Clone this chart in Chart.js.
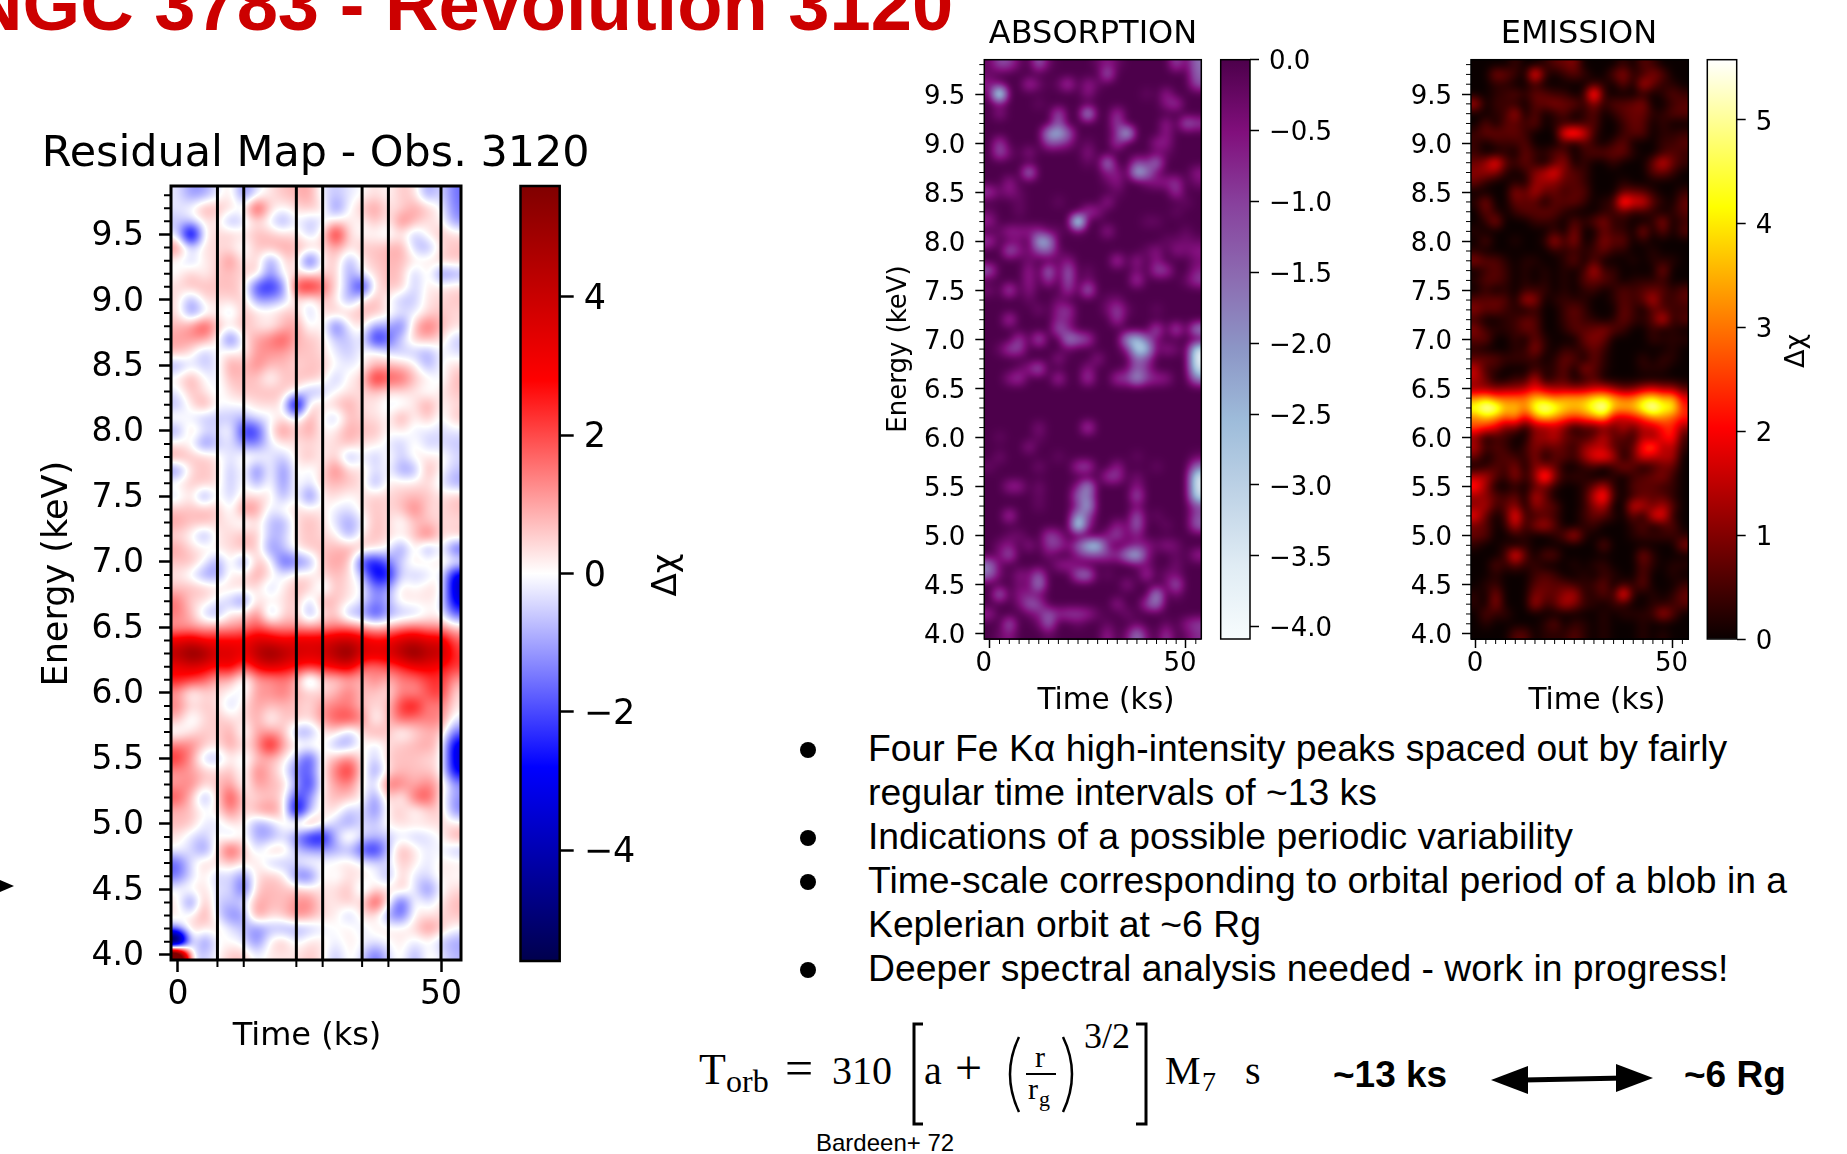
<!DOCTYPE html>
<html>
<head>
<meta charset="utf-8">
<title>NGC 3783 - Revolution 3120</title>
<script src="https://cdn.jsdelivr.net/npm/chart.js@4/dist/chart.umd.min.js"></script>
<style>
  html, body { margin: 0; background: #fff; }
  #slide { position: relative; width: 1847px; height: 1154px; overflow: hidden; background: #fff; }
  #slide canvas { position: absolute; }
  .t { position: absolute; line-height: 0; white-space: nowrap; color: #000; font-family: "Liberation Sans", Arial, sans-serif; }
  .m { font-family: "Liberation Serif", serif; }
  .dot { position: absolute; width: 16px; height: 16px; border-radius: 50%; background: #000; }
  svg { position: absolute; left: 0; top: 0; }
</style>
</head>
<body>
<div id="slide">
<svg width="1847" height="1154">
  <polygon points="0,880 14,886 0,892" fill="#000"/>
  <polyline points="923,1024 914,1024 914,1124 923,1124" fill="none" stroke="#000" stroke-width="3"/>
  <polyline points="1136,1024 1146,1024 1146,1124 1136,1124" fill="none" stroke="#000" stroke-width="3"/>
  <path d="M1019,1037 Q1001,1074 1019,1112" fill="none" stroke="#000" stroke-width="2.5"/>
  <path d="M1063,1037 Q1081,1074 1063,1112" fill="none" stroke="#000" stroke-width="2.5"/>
  <line x1="1026" y1="1074" x2="1056" y2="1074" stroke="#000" stroke-width="2"/>
  <line x1="1520" y1="1080" x2="1625" y2="1078" stroke="#000" stroke-width="5"/>
  <polygon points="1491,1080 1528,1066 1528,1094" fill="#000"/>
  <polygon points="1653,1078 1616,1064 1616,1092" fill="#000"/>
</svg>
</div>
<script>
// bin centres of the map (ks, keV)
const timeBins = [0, 2.5, 5, 7.5, 10, 12.5, 15, 17.5, 20, 22.5, 25, 27.5, 30, 32.5, 35, 37.5, 40, 42.5, 45, 47.5, 50, 52.5];
const energyBins = [9.8, 9.7, 9.6, 9.5, 9.4, 9.3, 9.2, 9.1, 9.0, 8.9, 8.8, 8.7, 8.6, 8.5, 8.4, 8.3, 8.2, 8.1, 8.0, 7.9,
  7.8, 7.7, 7.6, 7.5, 7.4, 7.3, 7.2, 7.1, 7.0, 6.9, 6.8, 6.7, 6.6, 6.5, 6.4, 6.3, 6.2, 6.1, 6.0, 5.9,
  5.8, 5.7, 5.6, 5.5, 5.4, 5.3, 5.2, 5.1, 5.0, 4.9, 4.8, 4.7, 4.6, 4.5, 4.4, 4.3, 4.2, 4.1, 4.0];

// delta chi in units of DELTA_CHI_UNIT, one row per energy bin, estimated from the residual map
const DELTA_CHI_UNIT = 1 / 7.5;
const deltaChiCounts = [
  [-2,-9,-8,-2,3,-11,-2,2,5,6,8,-2,-5,-2,0,3,0,5,3,-9,-2,-12],
  [-2,0,8,6,3,0,20,3,0,3,5,3,-12,0,5,9,2,3,8,5,0,-11],
  [-5,-3,2,2,-8,-3,3,-2,-9,0,-6,-2,3,2,0,6,0,12,6,2,2,-9],
  [-2,-36,2,3,5,2,6,5,3,3,-5,2,24,2,0,0,-2,2,-6,2,5,3],
  [11,-3,3,3,2,-2,5,6,8,6,6,2,8,2,5,5,6,8,-5,-8,3,5],
  [0,-5,2,3,11,0,5,-11,2,5,-20,2,5,-8,2,5,6,6,2,2,5,5],
  [0,5,0,5,5,3,6,-11,2,2,2,3,5,-9,0,3,6,5,-6,3,-12,-8],
  [3,6,6,5,6,3,-18,-20,-12,18,22,14,3,-6,-24,3,5,5,-5,2,2,3],
  [3,-9,3,3,3,5,-9,-8,-5,3,-2,5,2,-9,3,6,0,-6,-5,3,3,5],
  [3,-11,-3,2,-5,6,3,2,5,5,-5,3,5,5,6,6,2,-2,-2,3,5,3],
  [6,9,18,5,3,6,2,0,5,9,-2,3,-16,0,3,-9,-6,-14,6,14,6,3],
  [8,9,8,2,-16,2,8,11,16,6,5,3,-5,-5,0,-22,-14,-3,5,6,3,-5],
  [6,2,-6,0,2,0,9,9,8,5,5,3,-2,-5,0,2,-3,-5,-5,-8,0,-3],
  [-8,-2,-5,-2,9,5,11,5,6,3,5,5,0,-2,0,6,6,5,2,-8,0,3],
  [2,8,0,-2,6,5,5,-2,5,5,6,3,-6,2,3,22,14,14,5,2,-2,6],
  [-2,6,2,-2,3,5,5,6,5,2,-8,-5,0,2,3,5,2,3,2,-2,2,5],
  [-6,2,9,0,0,0,3,3,2,-36,5,2,5,8,2,2,-2,-2,2,9,0,3],
  [2,-2,-6,-5,-5,-6,-2,-2,3,-2,8,0,-6,6,3,3,0,9,0,6,-2,5],
  [-8,5,-2,-3,2,-20,-18,2,11,3,9,0,2,8,5,6,0,2,-2,-2,-3,-2],
  [2,0,-12,-5,-2,-9,-11,-2,2,2,3,2,3,6,2,2,-2,-5,2,-5,-3,-5],
  [8,5,5,2,-3,2,2,-2,-5,2,6,0,5,-9,0,-6,2,-5,2,2,2,-3],
  [-11,3,5,3,-6,2,-14,2,-12,2,-2,3,12,3,3,-3,0,-9,-8,8,0,-5],
  [2,5,5,3,-6,2,-8,2,-11,2,-3,5,6,5,3,-9,2,2,2,3,-2,-8],
  [-3,3,-11,2,-5,3,3,3,-8,2,-14,2,3,0,2,5,3,5,6,5,2,5],
  [5,5,6,5,-2,11,9,-3,2,3,2,2,-2,-3,2,5,3,5,12,3,3,5],
  [8,5,6,3,2,-3,3,-6,-8,3,6,3,-3,-9,-2,6,3,-2,5,5,3,3],
  [3,0,-9,2,3,6,5,-6,-5,3,5,3,2,-8,2,6,3,2,5,14,2,5],
  [8,3,2,2,3,6,5,-11,-5,2,5,5,6,8,5,3,0,-11,3,-11,2,-16],
  [5,6,0,-9,3,-12,6,2,-16,-12,-9,6,8,6,-18,-22,-11,-3,3,2,2,2],
  [2,-2,-9,-9,2,2,9,2,-2,3,2,3,6,3,-5,-24,-22,-2,-5,-3,2,-26],
  [5,6,5,3,3,3,3,-5,2,6,5,-5,6,2,0,-12,-8,3,0,3,2,-28],
  [12,3,3,-2,-5,-12,3,2,2,6,-5,9,5,2,-2,-11,-6,2,2,2,0,-25],
  [11,6,-5,-8,3,2,12,-8,3,5,-9,2,5,-8,-8,-18,-8,-6,-5,0,0,-14],
  [8,8,7,8,8,10,15,11,9,9,8,9,11,12,8,5,6,10,12,9,9,4],
  [24,27,21,22,22,22,28,26,23,26,26,26,30,31,26,22,23,29,31,26,27,14],
  [34,43,39,27,29,23,34,41,35,29,27,29,36,43,27,27,27,35,43,33,33,17],
  [23,27,24,20,24,13,23,27,24,20,18,20,23,26,13,11,15,18,23,24,20,17],
  [20,17,14,6,7,-4,8,8,11,7,-10,4,3,7,5,11,5,11,11,16,18,8],
  [8,-2,3,3,0,-2,9,9,12,6,5,3,6,12,5,5,2,11,8,15,18,3],
  [11,3,5,3,-5,3,8,5,6,5,2,9,11,11,5,3,5,18,22,9,12,2],
  [6,-3,3,5,3,2,8,-2,5,5,3,9,15,17,11,-2,6,14,11,11,11,-2],
  [-2,2,5,3,8,-3,8,8,6,-8,-9,2,3,-6,3,8,5,-2,3,6,6,-12],
  [11,11,5,2,9,2,8,24,8,2,3,2,-8,-8,2,-3,3,5,6,8,3,-26],
  [18,9,-6,-6,2,-3,5,6,2,-5,-18,2,6,11,2,-5,5,5,5,3,3,-26],
  [9,8,5,3,6,-2,12,6,0,-12,-14,2,12,20,3,-11,3,6,5,5,2,-24],
  [8,11,3,5,9,-2,9,6,5,-6,-20,2,8,11,0,-3,14,11,6,11,5,-8],
  [15,5,-9,3,18,3,3,5,3,-18,-9,3,6,5,2,-11,6,-2,14,16,2,-9],
  [6,5,0,2,12,2,8,11,5,-30,-6,2,3,-6,-2,-12,2,5,-2,3,5,-11],
  [6,5,-2,-3,2,2,-9,-6,2,5,12,2,-5,-9,-2,-5,2,3,3,3,3,2],
  [2,-3,-5,2,-5,2,-8,-8,-3,-11,-22,-24,-5,6,-3,-5,-5,-2,-5,-3,0,8],
  [0,-3,-11,3,18,5,-3,5,5,-5,-8,-8,-8,-6,-16,-22,-5,8,2,-2,0,-6],
  [-14,-2,5,2,5,2,3,-5,-6,-2,2,0,2,3,0,-2,-3,5,2,-3,2,2],
  [-12,-3,2,-5,-3,-11,3,5,3,-12,-14,2,-2,3,2,0,-8,5,-3,-3,2,0],
  [0,2,3,-3,-2,-16,5,6,5,5,3,2,3,6,-5,3,2,6,-2,-12,0,3],
  [2,-14,8,-5,-5,-3,8,6,5,9,11,2,2,5,2,20,2,-18,2,-3,2,6],
  [2,0,9,-3,-11,-9,11,3,5,11,8,3,2,-6,3,2,-9,-14,2,2,3,5],
  [-6,5,2,3,-2,-5,-11,-6,-8,-8,-6,-2,0,2,-3,2,2,2,3,11,5,0],
  [-70,2,-12,0,0,-2,-12,2,6,-2,3,2,-2,2,0,-2,0,2,-2,0,-5,-8],
  [80,-2,-5,0,5,5,-2,2,2,2,5,2,-6,2,-3,-14,-3,2,-8,2,-2,-6]
];

// marks drawn across the residual map (ks)
const markerTimes = [7.5, 12.5, 22.5, 27.5, 35, 40, 50];

const energyTicks = [4, 4.5, 5, 5.5, 6, 6.5, 7, 7.5, 8, 8.5, 9, 9.5];
const energyMinorTicks = [4.1, 4.2, 4.3, 4.4, 4.6, 4.7, 4.8, 4.9, 5.1, 5.2, 5.3, 5.4, 5.6, 5.7, 5.8, 5.9, 6.1, 6.2, 6.3, 6.4,
  6.6, 6.7, 6.8, 6.9, 7.1, 7.2, 7.3, 7.4, 7.6, 7.7, 7.8, 7.9, 8.1, 8.2, 8.3, 8.4, 8.6, 8.7, 8.8, 8.9,
  9.1, 9.2, 9.3, 9.4, 9.6, 9.7, 9.8];
const timeTicks = [0, 50];
const timeMinorTicks = [2.5, 5, 7.5, 10, 12.5, 15, 17.5, 20, 22.5, 25, 27.5, 30, 32.5, 35, 37.5, 40, 42.5, 45, 47.5, 52.5];

const residualBarTicks = [-4, -2, 0, 2, 4];
const absorptionBarTicks = [-4, -3.5, -3, -2.5, -2, -1.5, -1, -0.5, 0];
const emissionBarTicks = [0, 1, 2, 3, 4, 5];

const bullets = [
  "Four Fe K\u03b1 high-intensity peaks spaced out by fairly",
  "regular time intervals of ~13 ks",
  "Indications of a possible periodic variability",
  "Time-scale corresponding to orbital period of a blob in a",
  "Keplerian orbit at ~6 Rg",
  "Deeper spectral analysis needed - work in progress!"
];

// colour maps: [position, r, g, b]
const seismic = [[0, 0, 0, 77], [0.25, 0, 0, 255], [0.5, 255, 255, 255], [0.75, 255, 0, 0], [1, 128, 0, 0]];
const buPuReversed = [[0, 247, 252, 253], [0.125, 224, 236, 244], [0.25, 191, 211, 230], [0.375, 158, 188, 218], [0.5, 140, 150, 198],
  [0.625, 140, 107, 177], [0.75, 136, 65, 157], [0.875, 129, 15, 124], [1, 77, 0, 75]];
const hot = [[0, 10, 0, 0], [0.365, 255, 0, 0], [0.746, 255, 255, 0], [1, 255, 255, 255]];

const residualGrid = deltaChiCounts.map(row => row.map(v => v * DELTA_CHI_UNIT));
const absorptionGrid = residualGrid.map(row => row.map(v => Math.min(v, 0)));
const emissionGrid = residualGrid.map(row => row.map(v => Math.max(v, 0)));
// the bottom left corner spots only show on the residual map
absorptionGrid[57][0] = 0;
emissionGrid[58][0] = 0;

const slide = document.getElementById("slide");
const DEJAVU = '"DejaVu Sans"';

function addText(text, x, baseline, size, extra) {
  const d = document.createElement("div");
  d.className = "t";
  d.textContent = text;
  d.style.left = x + "px";
  d.style.top = (baseline - 0.3465 * size) + "px";
  d.style.fontSize = size + "px";
  if (extra) d.style.cssText += extra;
  slide.appendChild(d);
  return d;
}

function sampleColor(stops, f) {
  f = Math.min(1, Math.max(0, f));
  for (let i = 1; i < stops.length; i++) {
    if (f <= stops[i][0]) {
      const a = stops[i - 1], b = stops[i];
      const k = (f - a[0]) / (b[0] - a[0]);
      return [a[1] + k * (b[1] - a[1]), a[2] + k * (b[2] - a[2]), a[3] + k * (b[3] - a[3])];
    }
  }
  return stops[stops.length - 1].slice(1);
}

// cubic spline weights, same look as imshow(interpolation="bicubic")
function cubicWeights(s) {
  const s2 = s * s, s3 = s2 * s;
  return [(1 - s) * (1 - s) * (1 - s) / 6, (3 * s3 - 6 * s2 + 4) / 6, (-3 * s3 + 3 * s2 + 3 * s + 1) / 6, s3 / 6];
}

function sampleGrid(grid, col, row) {
  const c0 = Math.floor(col), r0 = Math.floor(row);
  const wc = cubicWeights(col - c0), wr = cubicWeights(row - r0);
  const rows = grid.length, cols = grid[0].length;
  let sum = 0;
  for (let j = 0; j < 4; j++) {
    const r = Math.min(rows - 1, Math.max(0, r0 + j - 1));
    for (let i = 0; i < 4; i++) {
      const c = Math.min(cols - 1, Math.max(0, c0 + i - 1));
      sum += wr[j] * wc[i] * grid[r][c];
    }
  }
  return sum;
}

// paints the grid through the chart's scales
const heatmapPlugin = {
  id: "heatmap",
  beforeDatasetsDraw(chart, args, opts) {
    if (!opts.grid) return;
    const { x, y } = chart.scales;
    const area = chart.chartArea;
    const w = Math.ceil(area.right - area.left), h = Math.ceil(area.bottom - area.top);
    const off = document.createElement("canvas");
    off.width = w; off.height = h;
    const octx = off.getContext("2d");
    const img = octx.createImageData(w, h);
    const tStep = timeBins[1] - timeBins[0], eStep = energyBins[0] - energyBins[1];
    for (let py = 0; py < h; py++) {
      const row = (energyBins[0] - y.getValueForPixel(area.top + py + 0.5)) / eStep;
      for (let px = 0; px < w; px++) {
        const col = (x.getValueForPixel(area.left + px + 0.5) - timeBins[0]) / tStep;
        const v = sampleGrid(opts.grid, col, row);
        const c = sampleColor(opts.colors, (v - opts.vmin) / (opts.vmax - opts.vmin));
        const k = (py * w + px) * 4;
        img.data[k] = c[0]; img.data[k + 1] = c[1]; img.data[k + 2] = c[2]; img.data[k + 3] = 255;
      }
    }
    octx.putImageData(img, 0, 0);
    chart.ctx.drawImage(off, area.left, area.top);
  }
};

// box around the axes, short ticks, titles
const framePlugin = {
  id: "frame",
  afterDraw(chart, args, opts) {
    const ctx = chart.ctx, a = chart.chartArea;
    ctx.save();
    ctx.strokeStyle = "#000";
    ctx.lineWidth = opts.width;
    ctx.strokeRect(a.left, a.top, a.right - a.left, a.bottom - a.top);
    ctx.lineWidth = opts.minorWidth || 1;
    ctx.beginPath();
    (opts.yMinor || []).forEach(v => {
      const p = chart.scales.y.getPixelForValue(v);
      ctx.moveTo(a.left - opts.minorLength, p); ctx.lineTo(a.left, p);
    });
    (opts.xMinor || []).forEach(v => {
      const p = chart.scales.x.getPixelForValue(v);
      ctx.moveTo(p, a.bottom); ctx.lineTo(p, a.bottom + opts.minorLength);
    });
    ctx.stroke();
    (opts.labels || []).forEach(l => {
      ctx.save();
      ctx.font = l.font;
      ctx.fillStyle = "#000";
      ctx.textAlign = "center";
      ctx.translate(l.x, l.y);
      ctx.rotate(l.rotate || 0);
      ctx.fillText(l.text, 0, 0);
      ctx.restore();
    });
    ctx.restore();
  }
};

function makeCanvas(box) {
  const c = document.createElement("canvas");
  c.width = box.w; c.height = box.h;
  c.style.left = box.x + "px";
  c.style.top = box.y + "px";
  slide.appendChild(c);
  return c;
}

const fixTicks = list => scale => { scale.ticks = list.map(value => ({ value })); };

function heatChart(cfg) {
  const { box, plot } = cfg;
  const cells = [];
  cfg.grid.forEach((row, r) => row.forEach((v, c) => cells.push({ x: timeBins[c], y: energyBins[r], v })));
  const datasets = [{ label: "\u0394\u03c7", data: cells, pointRadius: 0, showLine: false }];
  (cfg.lines || []).forEach(t => datasets.push({
    data: [{ x: t, y: cfg.yRange[0] }, { x: t, y: cfg.yRange[1] }],
    showLine: true, pointRadius: 0, borderColor: "#000", borderWidth: cfg.lineWidth
  }));
  const tickFont = { family: DEJAVU, size: cfg.tickSize };
  return new Chart(makeCanvas(box), {
    type: "scatter",
    data: { datasets },
    plugins: [heatmapPlugin, framePlugin],
    options: {
      responsive: false,
      animation: false,
      events: [],
      layout: { autoPadding: false, padding: { top: plot.top - box.y, right: box.x + box.w - plot.right, left: 0, bottom: 0 } },
      plugins: {
        legend: { display: false },
        tooltip: { enabled: false },
        heatmap: { grid: cfg.grid, colors: cfg.colors, vmin: cfg.vRange[0], vmax: cfg.vRange[1] },
        frame: {
          width: cfg.frameWidth, minorWidth: cfg.minorWidth, minorLength: cfg.minorLength,
          xMinor: cfg.xMinor, yMinor: energyMinorTicks, labels: cfg.labels
        }
      },
      scales: {
        x: {
          type: "linear", min: cfg.xRange[0], max: cfg.xRange[1],
          afterBuildTicks: fixTicks(timeTicks),
          afterFit: s => { s.height = box.y + box.h - plot.bottom; },
          border: { display: false },
          grid: { drawOnChartArea: false, color: "#000", tickLength: cfg.majorLength, tickWidth: cfg.majorWidth },
          ticks: { color: "#000", font: tickFont, padding: cfg.xTickPad, labelOffset: cfg.xLabelOffset || 0, autoSkip: false, maxRotation: 0, callback: v => String(v) }
        },
        y: {
          type: "linear", min: cfg.yRange[0], max: cfg.yRange[1],
          afterBuildTicks: fixTicks(energyTicks),
          afterFit: s => { s.width = plot.left - box.x; },
          border: { display: false },
          grid: { drawOnChartArea: false, color: "#000", tickLength: cfg.majorLength, tickWidth: cfg.majorWidth },
          ticks: { color: "#000", font: tickFont, padding: cfg.yTickPad, labelOffset: cfg.yLabelOffset, autoSkip: false, callback: v => v.toFixed(1) }
        }
      }
    }
  });
}

function colorbarChart(cfg) {
  const { box, plot } = cfg;
  return new Chart(makeCanvas(box), {
    type: "bar",
    data: {
      labels: ["\u0394\u03c7"],
      datasets: [{
        data: [[cfg.vRange[0], cfg.vRange[1]]],
        barPercentage: 1, categoryPercentage: 1, borderSkipped: false,
        backgroundColor: ctx => {
          const { chart } = ctx;
          if (!chart.chartArea) return "#000";
          const y = chart.scales.y;
          const g = chart.ctx.createLinearGradient(0, y.getPixelForValue(cfg.vRange[0]), 0, y.getPixelForValue(cfg.vRange[1]));
          cfg.colors.forEach(s => g.addColorStop(s[0], `rgb(${s[1]},${s[2]},${s[3]})`));
          return g;
        }
      }]
    },
    plugins: [framePlugin],
    options: {
      responsive: false,
      animation: false,
      events: [],
      layout: { autoPadding: false, padding: { top: plot.top - box.y, left: plot.left - box.x, right: 0, bottom: box.y + box.h - plot.bottom } },
      plugins: {
        legend: { display: false },
        tooltip: { enabled: false },
        frame: { width: cfg.frameWidth, minorLength: 0, labels: cfg.labels }
      },
      scales: {
        x: { display: false },
        y: {
          position: "right", min: cfg.vRange[0], max: cfg.vRange[1],
          afterBuildTicks: fixTicks(cfg.ticks),
          afterFit: s => { s.width = box.x + box.w - plot.right; },
          border: { display: false },
          grid: { drawOnChartArea: false, color: "#000", tickLength: cfg.majorLength, tickWidth: cfg.majorWidth },
          ticks: {
            color: "#000", font: { family: DEJAVU, size: cfg.tickSize }, padding: cfg.tickPad, labelOffset: cfg.labelOffset, autoSkip: false,
            callback: v => (v < 0 ? "\u2212" : "") + Math.abs(v).toFixed(cfg.decimals)
          }
        }
      }
    }
  });
}

// left: full residual map
heatChart({
  box: { x: 0, y: 110, w: 640, h: 950 },
  plot: { left: 171, right: 461, top: 186, bottom: 960 },
  grid: residualGrid, colors: seismic, vRange: [-5.6, 5.6],
  xRange: [-1.33, 53.8], yRange: [3.96, 9.87],
  lines: markerTimes, lineWidth: 3,
  frameWidth: 3, majorLength: 12, majorWidth: 2.5, minorLength: 7, minorWidth: 2,
  tickSize: 33, xTickPad: 4, yTickPad: 15, yLabelOffset: 2,
  xMinor: markerTimes.slice(0, -1),
  labels: [
    { text: "Residual Map - Obs. 3120", x: 315.7, y: 56, font: `42.9px ${DEJAVU}` },
    { text: "Time (ks)", x: 307, y: 935, font: `32px ${DEJAVU}` },
    { text: "Energy (keV)", x: 67, y: 463.7, rotate: -Math.PI / 2, font: `35px ${DEJAVU}` }
  ]
});
colorbarChart({
  box: { x: 500, y: 110, w: 200, h: 900 },
  plot: { left: 520.5, right: 559.7, top: 186, bottom: 961 },
  colors: seismic, vRange: [-5.6, 5.6], ticks: residualBarTicks, decimals: 0,
  frameWidth: 2.5, majorLength: 14, majorWidth: 2.5, tickSize: 35, tickPad: 10, labelOffset: 3,
  labels: [{ text: "\u0394\u03c7", x: 176, y: 465, rotate: -Math.PI / 2, font: `34px ${DEJAVU}` }]
});

// absorption panel
heatChart({
  box: { x: 880, y: 0, w: 335, h: 720 },
  plot: { left: 984.3, right: 1201.3, top: 59.7, bottom: 639 },
  grid: absorptionGrid, colors: buPuReversed, vRange: [-4.087, 0],
  xRange: [-1.37, 53.9], yRange: [3.945, 9.85],
  frameWidth: 1.5, majorLength: 9, majorWidth: 1.5, minorLength: 5, minorWidth: 1,
  tickSize: 26, xTickPad: 1, yTickPad: 10, yLabelOffset: 3, xLabelOffset: -6,
  xMinor: timeMinorTicks,
  labels: [
    { text: "ABSORPTION", x: 213, y: 43, font: `32px ${DEJAVU}` },
    { text: "Time (ks)", x: 226, y: 709, font: `29.5px ${DEJAVU}` },
    { text: "Energy (keV)", x: 26, y: 349, rotate: -Math.PI / 2, font: `26px ${DEJAVU}` }
  ]
});
colorbarChart({
  box: { x: 1212, y: 30, w: 150, h: 640 },
  plot: { left: 1220.7, right: 1250, top: 59.7, bottom: 639 },
  colors: buPuReversed, vRange: [-4.087, 0], ticks: absorptionBarTicks, decimals: 1,
  frameWidth: 1.5, majorLength: 9, majorWidth: 1.5, tickSize: 26, tickPad: 10, labelOffset: 3
});

// emission panel
heatChart({
  box: { x: 1380, y: 0, w: 320, h: 720 },
  plot: { left: 1471, right: 1688.3, top: 59.7, bottom: 639 },
  grid: emissionGrid, colors: hot, vRange: [0, 5.58],
  xRange: [-1.27, 54], yRange: [3.945, 9.85],
  frameWidth: 1.5, majorLength: 9, majorWidth: 1.5, minorLength: 5, minorWidth: 1,
  tickSize: 26, xTickPad: 1, yTickPad: 10, yLabelOffset: 3, xLabelOffset: -1,
  xMinor: timeMinorTicks,
  labels: [
    { text: "EMISSION", x: 199, y: 43, font: `32px ${DEJAVU}` },
    { text: "Time (ks)", x: 217, y: 709, font: `29.5px ${DEJAVU}` }
  ]
});
colorbarChart({
  box: { x: 1698, y: 30, w: 149, h: 640 },
  plot: { left: 1707.3, right: 1736.7, top: 59.7, bottom: 639 },
  colors: hot, vRange: [0, 5.58], ticks: emissionBarTicks, decimals: 0,
  frameWidth: 1.5, majorLength: 9, majorWidth: 1.5, tickSize: 26, tickPad: 10, labelOffset: 3,
  labels: [{ text: "\u0394\u03c7", x: 106, y: 321, rotate: -Math.PI / 2, font: `27px ${DEJAVU}` }]
});

// slide text
addText("NGC 3783 - Revolution 3120", -31, 31, 74.1, "font-weight:bold;color:#cc0000;");
const bulletBaselines = [761, 805, 849, 893, 937, 981];
const bulletDots = [0, 2, 3, 5];
bullets.forEach((line, i) => addText(line, 868, bulletBaselines[i], 37.3));
bulletDots.forEach(i => {
  const d = document.createElement("div");
  d.className = "dot";
  d.style.left = "800px";
  d.style.top = (bulletBaselines[i] - 19) + "px";
  slide.appendChild(d);
});

const formula = [
  ["T", 699, 1085, 44], ["orb", 726, 1092, 32], ["=", 785, 1085, 50], ["310", 832, 1085, 40], ["a", 924, 1085, 40],
  ["+", 955, 1085, 48], ["r", 1035, 1067, 30], ["r", 1028, 1099, 30], ["g", 1039, 1107, 22], ["3/2", 1084, 1048, 36],
  ["M", 1165, 1085, 40], ["7", 1202, 1092, 28], ["s", 1245, 1085, 40]
];
formula.forEach(f => addText(f[0], f[1], f[2], f[3]).classList.add("m"));
addText("Bardeen+ 72", 816, 1151, 24);
addText("~13 ks", 1333, 1088, 37, "font-weight:bold;");
addText("~6 Rg", 1684, 1088, 37, "font-weight:bold;");
</script>
</body>
</html>
